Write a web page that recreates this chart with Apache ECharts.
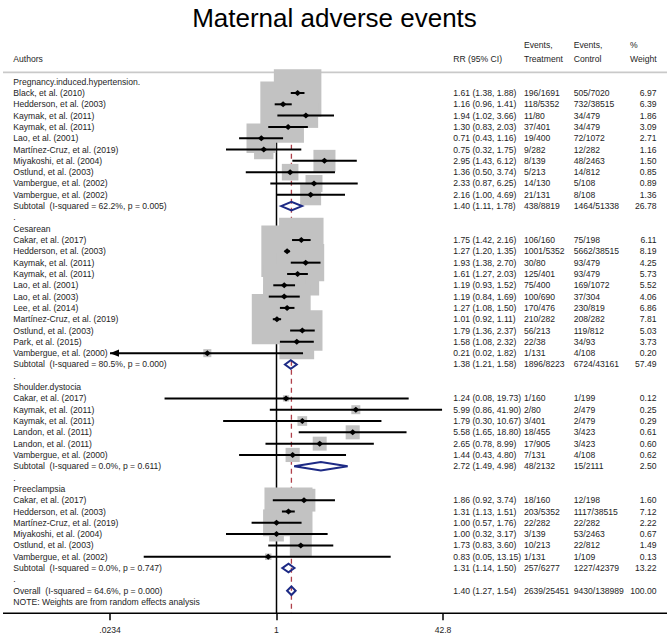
<!DOCTYPE html>
<html>
<head>
<meta charset="utf-8">
<script src="https://cdn.jsdelivr.net/npm/echarts@6/dist/echarts.min.js"></script>
<style>html,body{margin:0;padding:0;background:#fff}#c{width:669px;height:637px}</style>
</head>
<body>
<div id="c"></div>
<script>
// ---------- data ----------
const rowLabels = [
  'Pregnancy.induced.hypertension.',
  'Black, et al. (2010)', 'Hedderson, et al. (2003)', 'Kaymak, et al. (2011)', 'Kaymak, et al. (2011)',
  'Lao, et al. (2001)', 'Martínez-Cruz, et al. (2019)', 'Miyakoshi, et al. (2004)', 'Ostlund, et al. (2003)',
  'Vambergue, et al. (2002)', 'Vambergue, et al. (2002)',
  'Subtotal  (I-squared = 62.2%, p = 0.005)', '.',
  'Cesarean',
  'Cakar, et al. (2017)', 'Hedderson, et al. (2003)', 'Kaymak, et al. (2011)', 'Kaymak, et al. (2011)',
  'Lao, et al. (2001)', 'Lao, et al. (2003)', 'Lee, et al. (2014)', 'Martínez-Cruz, et al. (2019)',
  'Ostlund, et al. (2003)', 'Park, et al. (2015)', 'Vambergue, et al. (2000)',
  'Subtotal  (I-squared = 80.5%, p = 0.000)', '.',
  'Shoulder.dystocia',
  'Cakar, et al. (2017)', 'Kaymak, et al. (2011)', 'Kaymak, et al. (2011)', 'Landon, et al. (2011)',
  'Landon, et al. (2011)', 'Vambergue, et al. (2000)',
  'Subtotal  (I-squared = 0.0%, p = 0.611)', '.',
  'Preeclampsia',
  'Cakar, et al. (2017)', 'Hedderson, et al. (2003)', 'Martínez-Cruz, et al. (2019)', 'Miyakoshi, et al. (2004)',
  'Ostlund, et al. (2003)', 'Vambergue, et al. (2002)',
  'Subtotal  (I-squared = 0.0%, p = 0.747)', '.',
  'Overall  (I-squared = 64.6%, p = 0.000)',
  'NOTE: Weights are from random effects analysis'
];
// h = group heading, s = study, t = subtotal, g = gap, o = overall, n = note
const rowKind = [
  'h','s','s','s','s','s','s','s','s','s','s','t','g',
  'h','s','s','s','s','s','s','s','s','s','s','s','t','g',
  'h','s','s','s','s','s','s','t','g',
  'h','s','s','s','s','s','s','t','g',
  'o','n'
];
const rr = [
  null,1.61,1.16,1.94,1.30,0.71,0.75,2.95,1.36,2.33,2.16,1.40,null,
  null,1.75,1.27,1.93,1.61,1.19,1.19,1.27,1.01,1.79,1.58,0.21,1.38,null,
  null,1.24,5.99,1.79,5.58,2.65,1.44,2.72,null,
  null,1.86,1.31,1.00,1.00,1.73,0.83,1.31,null,
  1.40,null
];
const ciLow = [
  null,1.38,0.96,1.02,0.83,0.43,0.32,1.43,0.50,0.87,1.00,1.11,null,
  null,1.42,1.20,1.38,1.27,0.93,0.84,1.08,0.92,1.36,1.08,0.02,1.21,null,
  null,0.08,0.86,0.30,1.65,0.78,0.43,1.49,null,
  null,0.92,1.13,0.57,0.32,0.83,0.05,1.14,null,
  1.27,null
];
const ciHigh = [
  null,1.88,1.41,3.66,2.03,1.16,1.75,6.12,3.74,6.25,4.69,1.78,null,
  null,2.16,1.35,2.70,2.03,1.52,1.69,1.50,1.11,2.37,2.32,1.82,1.58,null,
  null,19.73,41.90,10.67,18.80,8.99,4.80,4.98,null,
  null,3.74,1.51,1.76,3.17,3.60,13.15,1.50,null,
  1.54,null
];
const eventsTreatment = [
  null,'196/1691','118/5352','11/80','37/401','19/400','9/282','8/139','5/213','14/130','21/131','438/8819',null,
  null,'106/160','1001/5352','30/80','125/401','75/400','100/690','170/476','210/282','56/213','22/38','1/131','1896/8223',null,
  null,'1/160','2/80','3/401','18/455','17/905','7/131','48/2132',null,
  null,'18/160','203/5352','22/282','3/139','10/213','1/131','257/6277',null,
  '2639/25451',null
];
const eventsControl = [
  null,'505/7020','732/38515','34/479','34/479','72/1072','12/282','48/2463','14/812','5/108','8/108','1464/51338',null,
  null,'75/198','5662/38515','93/479','93/479','169/1072','37/304','230/819','208/282','119/812','34/93','4/108','6724/43161',null,
  null,'1/199','2/479','2/479','3/423','3/423','4/108','15/2111',null,
  null,'12/198','1117/38515','22/282','53/2463','22/812','1/109','1227/42379',null,
  '9430/138989',null
];
const weights = [
  null,6.97,6.39,1.86,3.09,2.71,1.16,1.50,0.85,0.89,1.36,26.78,null,
  null,6.11,8.19,4.25,5.73,5.52,4.06,6.86,7.81,5.03,3.73,0.20,57.49,null,
  null,0.12,0.25,0.29,0.61,0.60,0.62,2.50,null,
  null,1.60,7.12,2.22,0.67,1.49,0.13,13.22,null,
  100.00,null
];
const tickLabels = ['.0234', '1', '42.8'];
const headerLabels = ['Authors', 'RR (95% CI)', 'Events,\nTreatment', 'Events,\nControl', '%\nWeight'];
const chartTitle = 'Maternal adverse events';

// ---------- layout / style ----------
const FONT = '"Liberation Sans", Arial, Helvetica, sans-serif';
const FS = 8.6;
const TXT = '#1e1e1e';
const AX_MIN = 1 / 42.8, AX_MAX = 42.8;
const overallIdx = rowKind.indexOf('o');
const overallRR = rr[overallIdx];
const BOX_K = 18;
const colX = {label: 13.3, rr: 453.3, evT: 524, evC: 573.7, wRight: 656.5};

const rowIdx = rowLabels.map((_, i) => [rr[i] == null ? 1 : rr[i], i + 1]);
const studyIdx = rowIdx.filter((_, i) => rowKind[i] === 's');
const diamondIdx = rowIdx.filter((_, i) => rowKind[i] === 't' || rowKind[i] === 'o');

const chart = echarts.init(document.getElementById('c'), null, {renderer: 'svg', width: 669, height: 637});

function font(sz) { return sz + 'px ' + FONT; }

const option = {
  animation: false,
  backgroundColor: '#fff',
  title: {
    text: chartTitle, left: 'center', top: 0,
    textStyle: {fontSize: 26, fontWeight: 'normal', color: '#000', fontFamily: FONT}
  },
  grid: {left: 110, width: 333, top: 42.1, height: 571.2, containLabel: false},
  xAxis: {
    type: 'log', logBase: 42.8, min: AX_MIN, max: AX_MAX,
    axisLine: {show: false, onZero: false},
    splitLine: {show: false},
    axisTick: {show: true, length: 7, lineStyle: {color: '#000', width: 1.5}},
    axisLabel: {
      margin: 12, fontSize: FS, color: TXT, fontFamily: FONT,
      formatter: v => tickLabels[Math.round(Math.log(v) / Math.log(42.8)) + 1]
    }
  },
  yAxis: {type: 'value', inverse: true, min: -2.5, max: 48, show: false},
  graphic: [
    {type: 'line', silent: true, z: 0, shape: {x1: 3, y1: 72.3, x2: 667, y2: 72.3}, style: {stroke: '#c9c9c9', lineWidth: 1.8}},
    {type: 'line', silent: true, z: 10, shape: {x1: 3, y1: 613.3, x2: 667, y2: 613.3}, style: {stroke: '#000', lineWidth: 1.5}},
    {type: 'text', silent: true, style: {text: headerLabels[0], x: colX.label, y: 59.3, font: font(FS), fill: TXT, verticalAlign: 'middle'}},
    {type: 'text', silent: true, style: {text: headerLabels[1], x: colX.rr, y: 59.3, font: font(FS), fill: TXT, verticalAlign: 'middle'}},
    {type: 'text', silent: true, style: {text: headerLabels[2], x: colX.evT, y: 52, font: font(FS), fill: TXT, verticalAlign: 'middle', lineHeight: 14.5}},
    {type: 'text', silent: true, style: {text: headerLabels[3], x: colX.evC, y: 52, font: font(FS), fill: TXT, verticalAlign: 'middle', lineHeight: 14.5}},
    {type: 'text', silent: true, style: {text: headerLabels[4], x: 630, y: 52, font: font(FS), fill: TXT, verticalAlign: 'middle', lineHeight: 14.5}}
  ],
  series: [
    // reference lines: null line (1) and overall estimate
    {
      type: 'custom', z: 1, silent: true, clip: false,
      data: [[1, 0]],
      renderItem: (params, api) => {
        const a = api.coord([1, 0.2]), b = api.coord([1, 48]);
        const c = api.coord([overallRR, 0.2]), d = api.coord([overallRR, 48]);
        return {type: 'group', children: [
          {type: 'line', shape: {x1: a[0], y1: a[1], x2: b[0], y2: b[1]}, style: {stroke: '#000', lineWidth: 1.5}},
          {type: 'line', shape: {x1: c[0], y1: c[1], x2: d[0], y2: d[1]}, style: {stroke: '#b0414b', lineWidth: 1.3, lineDash: [5, 4]}}
        ]};
      }
    },
    // weight boxes
    {
      type: 'custom', z: 2, silent: true, clip: false,
      data: studyIdx,
      renderItem: (params, api) => {
        const i = api.value(1) - 1;
        const p = api.coord([rr[i], i + 1]);
        const s = BOX_K * Math.sqrt(weights[i]);
        return {type: 'rect', shape: {x: p[0] - s / 2, y: p[1] - s / 2, width: s, height: s}, style: {fill: '#c2c2c2'}};
      }
    },
    // confidence intervals + point estimates
    {
      type: 'custom', z: 3, silent: true, clip: false,
      data: studyIdx,
      renderItem: (params, api) => {
        const i = api.value(1) - 1;
        const lo = Math.max(ciLow[i], AX_MIN), hi = Math.min(ciHigh[i], AX_MAX);
        const a = api.coord([lo, i + 1]), b = api.coord([hi, i + 1]), p = api.coord([rr[i], i + 1]);
        const ch = [
          {type: 'line', shape: {x1: a[0], y1: a[1], x2: b[0], y2: b[1]}, style: {stroke: '#000', lineWidth: 2}},
          {type: 'polygon', shape: {points: [[p[0] - 3.4, p[1]], [p[0], p[1] - 3], [p[0] + 3.4, p[1]], [p[0], p[1] + 3]]}, style: {fill: '#000'}}
        ];
        if (ciLow[i] < AX_MIN) {
          ch.push({type: 'polygon', shape: {points: [[a[0], a[1]], [a[0] + 9, a[1] - 3.6], [a[0] + 9, a[1] + 3.6]]}, style: {fill: '#000'}});
        }
        if (ciHigh[i] > AX_MAX) {
          ch.push({type: 'polygon', shape: {points: [[b[0], b[1]], [b[0] - 9, b[1] - 3.6], [b[0] - 9, b[1] + 3.6]]}, style: {fill: '#000'}});
        }
        return {type: 'group', children: ch};
      }
    },
    // pooled diamonds
    {
      type: 'custom', z: 4, silent: true, clip: false,
      data: diamondIdx,
      renderItem: (params, api) => {
        const i = api.value(1) - 1;
        const a = api.coord([ciLow[i], i + 1]), b = api.coord([ciHigh[i], i + 1]), p = api.coord([rr[i], i + 1]);
        const h = 4.3;
        return {type: 'polygon', shape: {points: [[a[0], a[1]], [p[0], p[1] - h], [b[0], b[1]], [p[0], p[1] + h]]},
          style: {fill: 'rgba(0,0,0,0)', stroke: '#1d2a85', lineWidth: 2}};
      }
    },
    // table text
    {
      type: 'custom', z: 5, silent: true, clip: false,
      data: rowIdx,
      renderItem: (params, api) => {
        const i = api.value(1) - 1;
        const y = api.coord([1, i + 1])[1];
        const st = (text, x, align) => ({type: 'text', style: {text, x, y, font: font(FS), fill: TXT, align: align || 'left', verticalAlign: 'middle'}});
        const ch = [st(rowLabels[i], colX.label)];
        if (rr[i] != null) {
          ch.push(st(rr[i].toFixed(2) + ' (' + ciLow[i].toFixed(2) + ', ' + ciHigh[i].toFixed(2) + ')', colX.rr));
          ch.push(st(eventsTreatment[i], colX.evT));
          ch.push(st(eventsControl[i], colX.evC));
          ch.push(st(weights[i].toFixed(2), colX.wRight, 'right'));
        }
        return {type: 'group', children: ch};
      }
    }
  ]
};
chart.setOption(option);
</script>
</body>
</html>
